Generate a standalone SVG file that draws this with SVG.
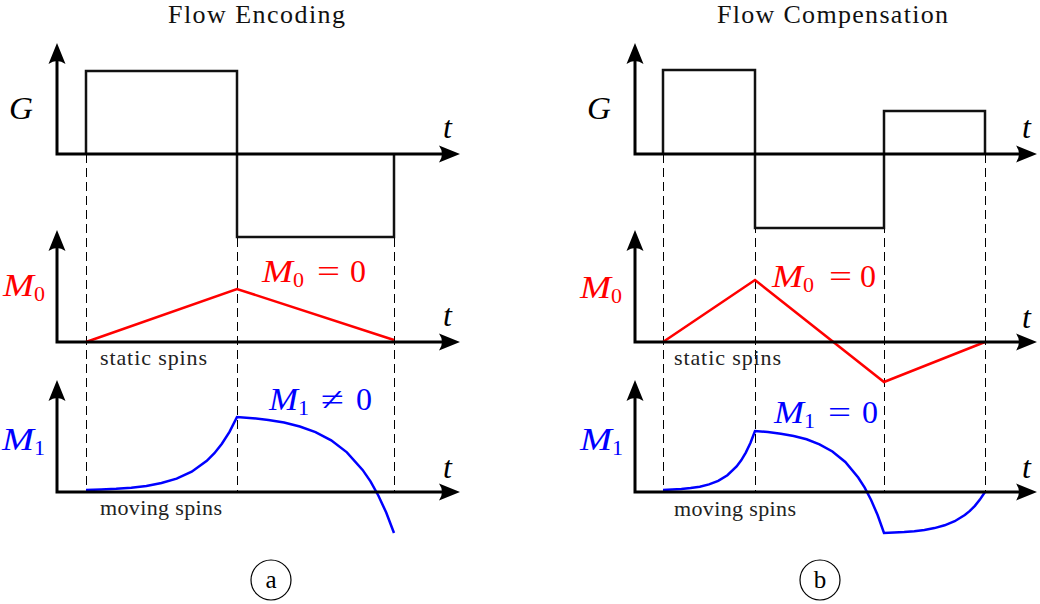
<svg xmlns="http://www.w3.org/2000/svg" width="1040" height="604" viewBox="0 0 1040 604" font-family="'Liberation Serif', 'DejaVu Serif', serif">
<style>
  .axis{fill:none;stroke:#000;stroke-width:3;stroke-linejoin:miter}
  .pulse{fill:none;stroke:#111;stroke-width:2.5;stroke-linejoin:miter}
  .guide{fill:none;stroke:#000;stroke-width:1;stroke-dasharray:9 5}
  .red{fill:none;stroke:#ff0000;stroke-width:2.5;stroke-linejoin:miter}
  .blue{fill:none;stroke:#0000ff;stroke-width:2.5;stroke-linejoin:miter}
  .title{font-size:26px;fill:#111}
  .note{font-size:22px;fill:#222}
  .math{font-size:32px}
  .it{font-style:italic}
  .sub{font-size:22px}
  .tr{fill:#ff0000}
  .tb{fill:#0000ff}
  .tk{fill:#000}
  .circ{fill:none;stroke:#000;stroke-width:1.2}
  .lbl{font-size:25px;fill:#000;text-anchor:middle}
</style>
<defs>
  <marker id="arr" viewBox="-23 -10 24 20" refX="-10" refY="0" markerWidth="24" markerHeight="20" markerUnits="userSpaceOnUse" orient="auto-start-reverse" overflow="visible">
    <path d="M0,0 L-21,-8.5 Q-15,0 -21,8.5 Z" fill="#000"/>
  </marker>
</defs>

<g id="title-a"><text class="title" x="168" y="23" textLength="177" lengthAdjust="spacing">Flow Encoding</text></g>
<g id="title-b"><text class="title" x="717" y="23" textLength="231" lengthAdjust="spacing">Flow Compensation</text></g>

<g id="connectors">
  <g id="guides-a">
    <line class="guide" x1="86.5" y1="154" x2="86.5" y2="492"/>
    <line class="guide" x1="237.5" y1="154" x2="237.5" y2="492"/>
    <line class="guide" x1="394.5" y1="154" x2="394.5" y2="492"/>
  </g>
  <g id="guides-b">
    <line class="guide" x1="663.5" y1="154" x2="663.5" y2="492"/>
    <line class="guide" x1="755.5" y1="154" x2="755.5" y2="492"/>
    <line class="guide" x1="884.5" y1="154" x2="884.5" y2="492"/>
    <line class="guide" x1="985.5" y1="154" x2="985.5" y2="492"/>
  </g>
</g>

<!-- Panel a -->
<g id="a-gradient">
  <path class="pulse" d="M86,154 V71 H237 V237 H394 V154"/>
  <polyline class="axis" points="57,53 57,154 450,154" marker-start="url(#arr)" marker-end="url(#arr)"/>
  <text class="math it tk" x="9" y="119" textLength="24" lengthAdjust="spacingAndGlyphs">G</text>
  <text class="math it tk" x="443" y="138">t</text>
</g>
<g id="a-m0">
  <polyline class="red" points="86,342 237,289 394,340"/>
  <polyline class="axis" points="57,240 57,342 450,342" marker-start="url(#arr)" marker-end="url(#arr)"/>
  <text class="math it tr" x="3" y="296" textLength="31" lengthAdjust="spacingAndGlyphs">M</text>
  <text class="sub tr" x="34" y="301">0</text>
  <text class="math it tr" x="262" y="282" textLength="31" lengthAdjust="spacingAndGlyphs">M</text>
  <text class="sub tr" x="293" y="287">0</text>
  <text class="math tr" x="317" y="282" textLength="23" lengthAdjust="spacingAndGlyphs">=</text>
  <text class="math tr" x="350" y="282">0</text>
  <text class="math it tk" x="443" y="326">t</text>
  <text class="note" x="100" y="365" textLength="107" lengthAdjust="spacing">static spins</text>
</g>
<g id="a-m1">
  <polyline class="blue" points="86,490 101.1,489.5 116.2,488.8 131.3,487.7 146.4,485.9 161.5,483 176.6,478.6 191.7,471.7 206.8,460.8 214.4,453.2 221.9,443.7 229.5,431.9 237,417 252.7,418.2 268.4,420 284.1,422.6 299.8,426.5 315.5,432.1 331.2,440.3 346.9,452.3 362.6,469.9 370.5,481.4 378.3,495.5 386.2,512.5 394,533"/>
  <polyline class="axis" points="57,390 57,492 450,492" marker-start="url(#arr)" marker-end="url(#arr)"/>
  <text class="math it tb" x="2" y="450" textLength="32" lengthAdjust="spacingAndGlyphs">M</text>
  <text class="sub tb" x="34" y="455">1</text>
  <text class="math it tb" x="269" y="410" textLength="29" lengthAdjust="spacingAndGlyphs">M</text>
  <text class="sub tb" x="298" y="415">1</text>
  <text class="math tb" x="321" y="410" textLength="23" lengthAdjust="spacingAndGlyphs">≠</text>
  <text class="math tb" x="356" y="410">0</text>
  <text class="math it tk" x="443" y="478">t</text>
  <text class="note" x="100" y="515" textLength="122" lengthAdjust="spacing">moving spins</text>
</g>
<g id="a-label">
  <circle class="circ" cx="271" cy="580" r="20"/>
  <text class="lbl" x="271" y="588">a</text>
</g>

<!-- Panel b -->
<g id="b-gradient">
  <path class="pulse" d="M663,154 V70 H755 V228 H884 V111 H985 V154"/>
  <polyline class="axis" points="635,53 635,154 1027,154" marker-start="url(#arr)" marker-end="url(#arr)"/>
  <text class="math it tk" x="587" y="119" textLength="24" lengthAdjust="spacingAndGlyphs">G</text>
  <text class="math it tk" x="1022" y="138">t</text>
</g>
<g id="b-m0">
  <polyline class="red" points="663,342 755,280 884,382 985,342"/>
  <polyline class="axis" points="635,240 635,342 1027,342" marker-start="url(#arr)" marker-end="url(#arr)"/>
  <text class="math it tr" x="580" y="298" textLength="31" lengthAdjust="spacingAndGlyphs">M</text>
  <text class="sub tr" x="611" y="303">0</text>
  <text class="math it tr" x="772" y="287" textLength="31" lengthAdjust="spacingAndGlyphs">M</text>
  <text class="sub tr" x="803" y="292">0</text>
  <text class="math tr" x="829" y="287" textLength="23" lengthAdjust="spacingAndGlyphs">=</text>
  <text class="math tr" x="860" y="287">0</text>
  <text class="math it tk" x="1022" y="328">t</text>
  <text class="note" x="674" y="365" textLength="107" lengthAdjust="spacing">static spins</text>
</g>
<g id="b-m1">
  <polyline class="blue" points="663,490 672.2,489.6 681.4,489 690.6,488.1 699.8,486.7 709,484.4 718.2,480.8 727.4,475.2 736.6,466.4 741.2,460.3 745.8,452.6 750.4,443 755,431 767.9,432.1 780.8,433.7 793.7,436 806.6,439.3 819.5,444.3 832.4,451.5 845.3,462 858.2,477.5 864.7,487.7 871.1,500 877.6,515 884,533 894.1,532.6 904.2,532.1 914.3,531.2 924.4,530 934.5,528.1 944.6,525.3 954.7,521.2 964.8,515 969.9,510.9 974.9,505.8 979.9,499.6 985,492"/>
  <polyline class="axis" points="635,390 635,492 1027,492" marker-start="url(#arr)" marker-end="url(#arr)"/>
  <text class="math it tb" x="580" y="450" textLength="32" lengthAdjust="spacingAndGlyphs">M</text>
  <text class="sub tb" x="612" y="455">1</text>
  <text class="math it tb" x="774" y="423" textLength="30" lengthAdjust="spacingAndGlyphs">M</text>
  <text class="sub tb" x="804" y="428">1</text>
  <text class="math tb" x="828" y="423" textLength="23" lengthAdjust="spacingAndGlyphs">=</text>
  <text class="math tb" x="862" y="423">0</text>
  <text class="math it tk" x="1022" y="478">t</text>
  <text class="note" x="674" y="516" textLength="122" lengthAdjust="spacing">moving spins</text>
</g>
<g id="b-label">
  <circle class="circ" cx="820" cy="580" r="20"/>
  <text class="lbl" x="820" y="588">b</text>
</g>
</svg>
